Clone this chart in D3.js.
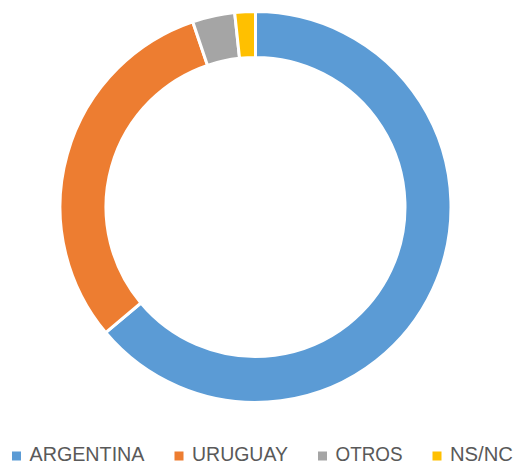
<!DOCTYPE html>
<html><head><meta charset="utf-8">
<script src="https://cdn.jsdelivr.net/npm/d3@7"></script>
<style>html,body{margin:0;padding:0;background:#fff;}</style>
</head><body>
<svg id="chart" width="514" height="466"></svg>
<script>
const categories = ["ARGENTINA", "URUGUAY", "OTROS", "NS/NC"];
const values = [63.9, 30.9, 3.5, 1.7];
const colors = ["#5B9BD5", "#ED7D31", "#A5A5A5", "#FFC000"];

const svg = d3.select("#chart");
const cx = 255.5, cy = 207, R = 195.5, r = 149.5;
const data = categories.map((c, i) => ({cat: c, value: values[i], color: colors[i]}));
const pie = d3.pie().value(d => d.value).sort(null);
const arc = d3.arc().innerRadius(r).outerRadius(R);
svg.append("g").attr("transform", `translate(${cx},${cy})`)
  .selectAll("path").data(pie(data)).join("path")
  .attr("d", arc).attr("fill", d => d.data.color)
  .attr("stroke", "#fff").attr("stroke-width", 3).attr("stroke-linejoin", "miter");

// legend
const leg = svg.append("g");
const font = "'Liberation Sans', Arial, sans-serif";
const items = leg.selectAll("g").data(data).join("g");
items.append("rect").attr("width", 9).attr("height", 9).attr("y", 451.5).attr("fill", d => d.color);
const textW = [115, 96, 67, 63];
items.append("text").attr("x", 17.5).attr("y", 461)
  .attr("font-family", font).attr("font-size", 20.5).attr("fill", "#595959")
  .attr("textLength", (d, i) => textW[i]).attr("lengthAdjust", "spacingAndGlyphs")
  .text(d => d.cat);
let x = 12;
items.each(function(d, i) {
  d3.select(this).attr("transform", `translate(${x},0)`);
  x += 17.5 + textW[i] + 30;
});
</script>
</body></html>
